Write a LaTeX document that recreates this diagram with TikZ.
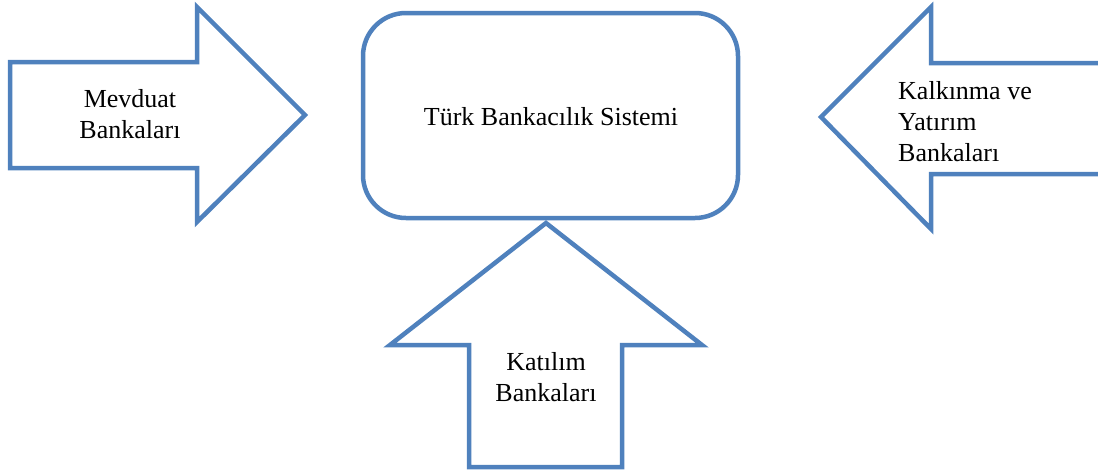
\documentclass[tikz,border=0pt]{standalone}
\usepackage{fontspec}
\setmainfont{Liberation Serif}
\definecolor{arrowblue}{HTML}{4F81BD}
\begin{document}
\begin{tikzpicture}[x=1pt,y=-1pt,
  shapeline/.style={draw=arrowblue,line width=4.5pt,line join=miter,fill=white},
  lbl/.style={font=\fontsize{26}{31}\selectfont,inner sep=0pt,text=black}]
\useasboundingbox (0,0) rectangle (1098,472);
% left arrow
\draw[shapeline] (10,62) -- (197,62) -- (197,7) -- (305,115) -- (197,222) -- (197,168) -- (10,168) -- cycle;
% center box
\draw[shapeline,rounded corners=43pt] (363,13) rectangle (738,218);
% right arrow (body runs off the page)
\draw[shapeline] (1110,63) -- (931,63) -- (931,7) -- (821,117) -- (931,229) -- (931,174) -- (1110,174);
% bottom arrow
\draw[shapeline] (546,223) -- (702,345) -- (622,345) -- (622,467) -- (469,467) -- (469,345) -- (390,345) -- cycle;
% labels (base anchor = baseline of the last line)
\node[lbl,anchor=base,align=center] (mevduat) at (130,138) {Mevduat\\Bankaları};
\node[lbl,anchor=base] (turk) at (551,125) {Türk Bankacılık Sistemi};
\node[lbl,anchor=base west,align=left] (kalkinma) at (898,161) {Kalkınma ve\\Yatırım\\Bankaları};
\node[lbl,anchor=base,align=center] (katilim) at (546,401) {Katılım\\Bankaları};
\end{tikzpicture}
\end{document}
